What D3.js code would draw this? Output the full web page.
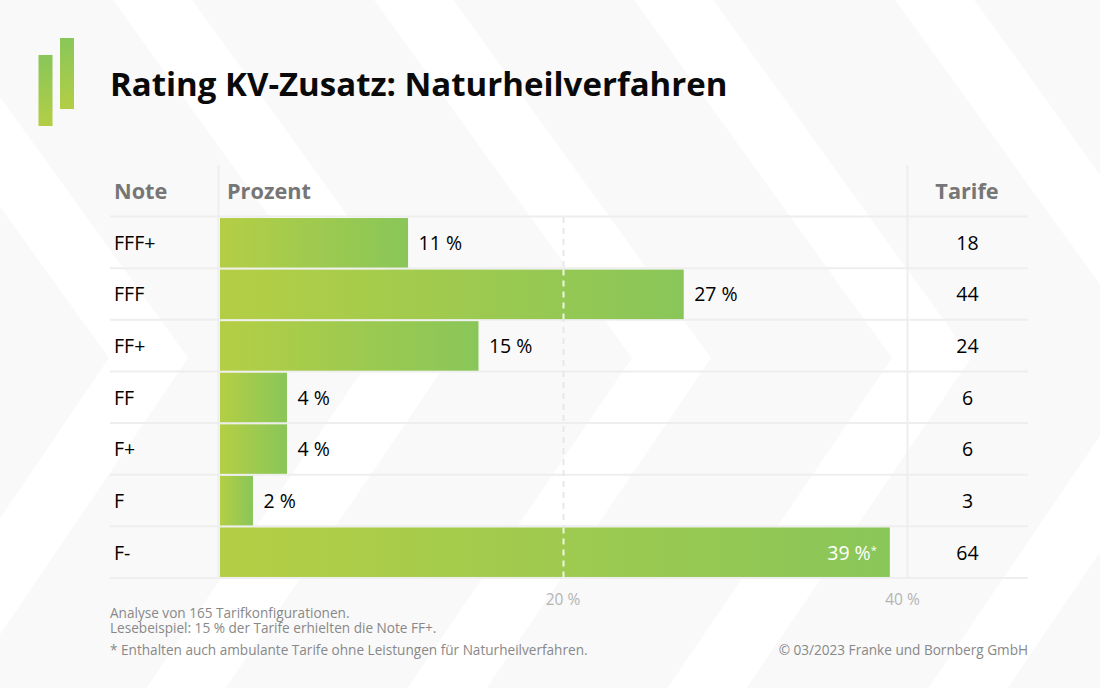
<!DOCTYPE html>
<html><head><meta charset="utf-8">
<script src="https://cdn.jsdelivr.net/npm/d3@7/dist/d3.min.js"></script>
<style>
html,body{margin:0;padding:0;background:#fff;}
svg{display:block;font-family:"Open Sans",sans-serif;}
</style></head><body><svg id="c" width="1100" height="688"></svg>
<script>
const notes = ["FFF+","FFF","FF+","FF","F+","F","F-"];
const percents = [10.95,27,15.05,3.9,3.9,1.92,39];
const percentLabels = ["11 %","27 %","15 %","4 %","4 %","2 %","39 %"];
const tarife = [18,44,24,6,6,3,64];
const tickValues = [20,40];
const title = "Rating KV-Zusatz: Naturheilverfahren";
const headers = ["Note","Prozent","Tarife"];
const footLeft = ["Analyse von 165 Tarifkonfigurationen.","Lesebeispiel: 15 % der Tarife erhielten die Note FF+.","* Enthalten auch ambulante Tarife ohne Leistungen für Naturheilverfahren."];
const footRight = "© 03/2023 Franke und Bornberg GmbH";
const chevronTips = [109,371,632,892,1153];

const svg = d3.select("#c");
const W=1100,H=688;
const x = d3.scaleLinear().domain([0,40]).range([220,907]);
const y = d3.scaleBand().domain(notes).range([217,578]).paddingInner(0.04).paddingOuter(0.02);
const rowY = d3.scaleBand().domain(notes).range([216.5,578]);
const defs = svg.append("defs");
const gh = defs.append("linearGradient").attr("id","gh").attr("x1",0).attr("x2",1).attr("y1",0).attr("y2",0);
gh.append("stop").attr("offset","3%").attr("stop-color","#b3ce45");
gh.append("stop").attr("offset","100%").attr("stop-color","#89c659");
const gv = defs.append("linearGradient").attr("id","gv").attr("x1",0).attr("x2",0).attr("y1",1).attr("y2",0);
gv.append("stop").attr("offset","0%").attr("stop-color","#b3ce45");
gv.append("stop").attr("offset","100%").attr("stop-color","#89c659");

// background
svg.append("rect").attr("width",W).attr("height",H).attr("fill","#f9f9f9");
const apexY=358, slopeTop=0.72, slopeBottom=0.68, bandW=79;
const line=d3.line();
svg.append("g").selectAll("path").data(chevronTips).join("path").attr("fill","#fff")
  .attr("d",t=>{const a=apexY*slopeTop,b=(H-apexY)*slopeBottom;
    return line([[t-a,0],[t,apexY],[t-b,H],[t-b+bandW,H],[t+bandW,apexY],[t-a+bandW,0]])+"Z";});

// logo
svg.append("rect").attr("x",38.5).attr("y",55).attr("width",14).attr("height",71).attr("fill","url(#gv)");
svg.append("rect").attr("x",60).attr("y",38).attr("width",14).attr("height",71).attr("fill","url(#gv)");

svg.append("text").attr("x",110).attr("y",96).attr("font-size",33).attr("font-weight",700).attr("fill","#0a0a0a").text(title);

// grid lines
const gridColor="#eeeeee";
const rules=[216.5].concat(notes.map(n=>rowY(n)+rowY.bandwidth()));
svg.append("g").selectAll("line").data(rules).join("line")
  .attr("x1",110).attr("x2",1028).attr("y1",d=>d).attr("y2",d=>d).attr("stroke",gridColor).attr("stroke-width",2);
svg.append("g").selectAll("line").data([218.5,907.5]).join("line")
  .attr("x1",d=>d).attr("x2",d=>d).attr("y1",165).attr("y2",578).attr("stroke",gridColor).attr("stroke-width",2);
svg.append("line").attr("x1",x(20)).attr("x2",x(20)).attr("y1",217).attr("y2",578)
  .attr("stroke","#e8e8e8").attr("stroke-width",2).attr("stroke-dasharray","6 5");

// headers
const hx=[114,227,967], ha=["start","start","middle"];
svg.append("g").selectAll("text").data(headers).join("text")
  .attr("x",(d,i)=>hx[i]).attr("y",199).attr("text-anchor",(d,i)=>ha[i])
  .attr("font-size",21.7).attr("font-weight",700).attr("fill","#767676").text(d=>d);

// bars
const rows=notes.map((n,i)=>({n,p:percents[i],l:percentLabels[i],t:tarife[i]}));
svg.append("g").selectAll("rect").data(rows).join("rect")
  .attr("x",x(0)).attr("y",d=>y(d.n)).attr("width",d=>x(d.p)-x(0)).attr("height",y.bandwidth()).attr("fill","url(#gh)");
svg.append("g").selectAll("line").data(rows.filter(d=>d.p>20)).join("line")
  .attr("x1",x(20)).attr("x2",x(20)).attr("y1",d=>y(d.n)).attr("y2",d=>y(d.n)+y.bandwidth())
  .attr("stroke","#fff").attr("stroke-opacity",.85).attr("stroke-width",2).attr("stroke-dasharray","6 5");

const cy=d=>rowY(d.n)+rowY.bandwidth()/2+7.5;
svg.append("g").selectAll("text").data(rows).join("text").attr("x",114).attr("y",cy)
  .attr("font-size",19.5).attr("font-weight",500).attr("fill","#000").text(d=>d.n);
svg.append("g").selectAll("text").data(rows).join("text").attr("x",967.5).attr("y",cy).attr("text-anchor","middle")
  .attr("font-size",19.5).attr("font-weight",500).attr("fill","#000").text(d=>d.t);
const inside=d=>d.p>30;
const vl=svg.append("g").selectAll("text").data(rows).join("text")
  .attr("x",d=>inside(d)?x(d.p)-13:x(d.p)+10.5).attr("y",cy).attr("text-anchor",d=>inside(d)?"end":"start")
  .attr("font-size",19.5).attr("font-weight",500).attr("fill",d=>inside(d)?"#fff":"#000");
vl.append("tspan").text(d=>d.l);
vl.filter(inside).append("tspan").attr("font-size",11).attr("dy",-6).text("*");

// axis
const ax=svg.append("g").attr("transform","translate(0,605)")
  .call(d3.axisBottom(x).tickValues(tickValues).tickSize(0).tickPadding(0).tickFormat(d=>d+" %"));
ax.select(".domain").remove();
ax.selectAll("text").attr("font-size",15.5).attr("font-family","'Open Sans',sans-serif").attr("fill","#b4b4b4")
  .attr("dy",0).attr("y",0).attr("x",d=>d===40?-5:-1);

// footnotes
const fy=[617.5,633,654.5];
svg.append("g").selectAll("text").data(footLeft).join("text").attr("x",110).attr("y",(d,i)=>fy[i])
  .attr("font-size",13.6).attr("fill","#888").text(d=>d);
svg.append("text").attr("x",1028).attr("y",654.5).attr("text-anchor","end").attr("font-size",13.6).attr("fill","#888").text(footRight);
</script></body></html>
